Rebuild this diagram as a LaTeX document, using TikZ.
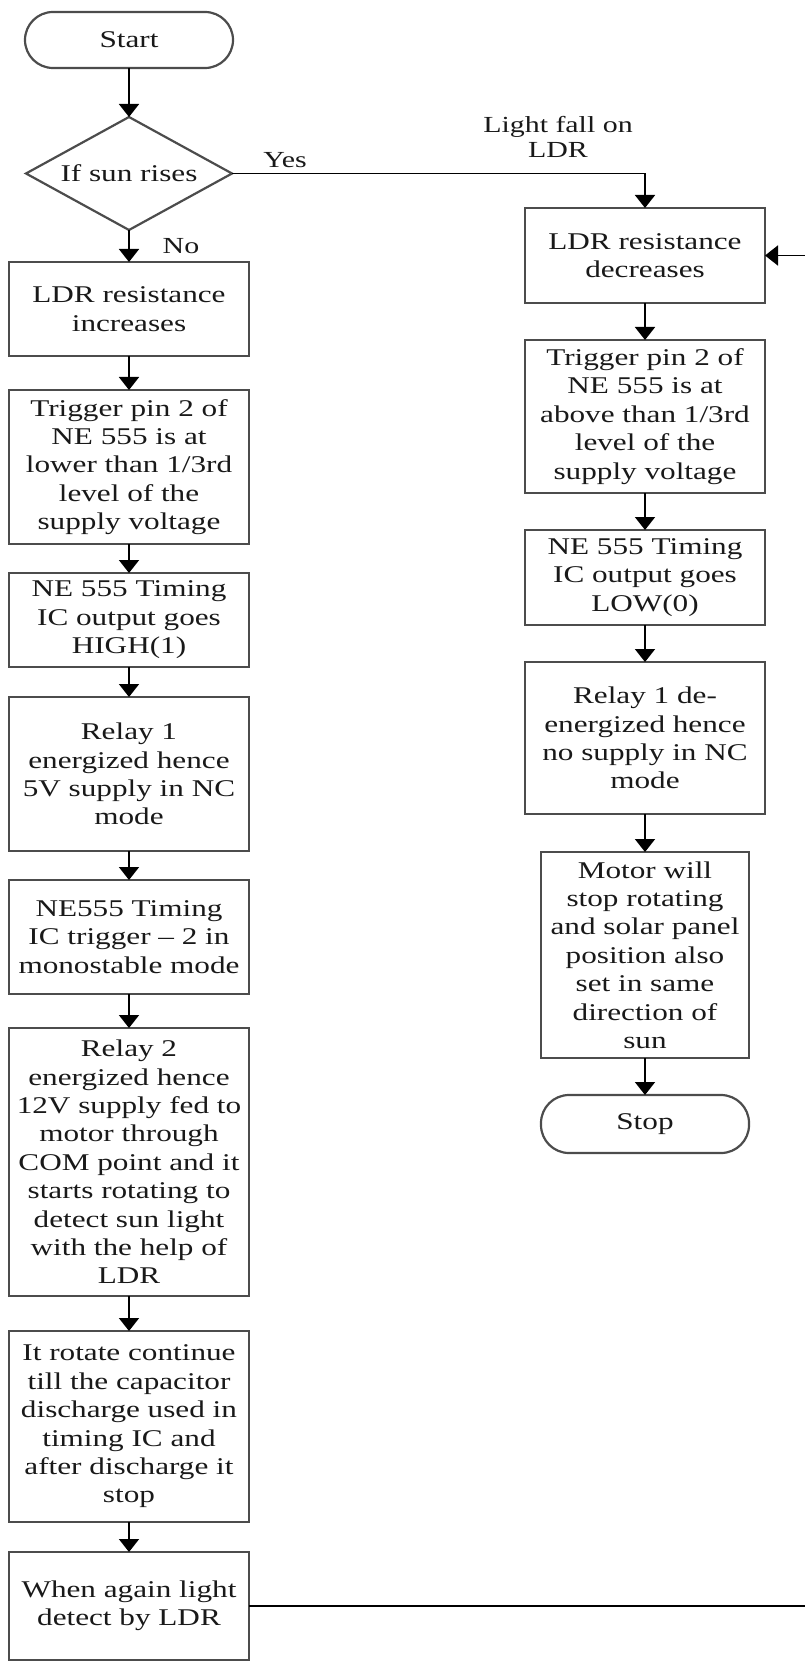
\documentclass[tikz,border=0pt]{standalone}
\usepackage{fontspec}
\setmainfont{Liberation Serif}[FakeStretch=1.3]
\usetikzlibrary{arrows.meta,positioning,shapes.geometric}
\tikzset{box/.style={draw=black!70,line width=1.1pt,align=center,minimum width=120pt,inner sep=2pt,outer sep=0pt,fill=white},term/.style={box,rounded corners=14pt,minimum width=104pt,minimum height=28pt},cond/.style={draw=black!70,line width=1.1pt,diamond,aspect=1.82,minimum width=103pt,minimum height=56.5pt,inner sep=0pt,outer sep=0pt,align=center},arrow/.style={-{Triangle[width=10pt,length=6.5pt]},line width=0.9pt},lbl/.style={align=center,font=\fontsize{11.5}{12.5}\selectfont}}

\begin{document}
\begin{tikzpicture}[x=0.5pt,y=-0.5pt,font=\fontsize{12}{14.2}\selectfont,text=black!90]
\useasboundingbox (0,0) rectangle (804,1663);
\node[term] (start) at (129,40) {Start};
\node[cond,below=24.5pt of start] (sun) {If sun rises};
\node[box,minimum height=47pt,below=16pt of sun] (incr) {LDR resistance\\increases};
\node[box,minimum height=77pt,below=17pt of incr] (trigl) {Trigger pin 2 of\\NE 555 is at\\lower than 1/3rd\\level of the\\supply voltage};
\node[box,minimum height=47pt,below=14.5pt of trigl] (high) {NE 555 Timing\\IC output goes\\HIGH(1)};
\node[box,minimum height=77pt,below=15pt of high] (relayon) {Relay 1\\energized hence\\5V supply in NC\\mode};
\node[box,minimum height=57pt,below=14.5pt of relayon] (mono) {NE555 Timing\\IC trigger -- 2 in\\monostable mode};
\node[box,minimum height=134pt,below=17pt of mono] (relaytwo) {Relay 2\\energized hence\\12V supply fed to\\motor through\\COM point and it\\starts rotating to\\detect sun light\\with the help of\\LDR};
\node[box,minimum height=95.5pt,below=17.5pt of relaytwo] (rotate) {It rotate continue\\till the capacitor\\discharge used in\\timing IC and\\after discharge it\\stop};
\node[box,minimum height=54pt,below=15pt of rotate] (again) {When again light\\detect by LDR};
\node[box,minimum height=47.5pt] (decr) at (645,255.5) {LDR resistance\\decreases};
\node[box,minimum height=76.5pt,below=18.5pt of decr] (trigr) {Trigger pin 2 of\\NE 555 is at\\above than 1/3rd\\level of the\\supply voltage};
\node[box,minimum height=47.5pt,below=18.5pt of trigr] (low) {NE 555 Timing\\IC output goes\\LOW(0)};
\node[box,minimum height=76pt,below=18.5pt of low] (relayoff) {Relay 1 de-\\energized hence\\no supply in NC\\mode};
\node[box,minimum width=104pt,minimum height=103pt,below=19pt of relayoff] (motor) {Motor will\\stop rotating\\and solar panel\\position also\\set in same\\direction of\\sun};
\node[term,minimum height=29pt,below=18.5pt of motor] (stop) {Stop};
\node[lbl] (yes) at (285,160) {Yes};
\node[lbl] (no) at (181,246) {No};
\node[lbl] (light) at (558,137) {Light fall on\\LDR};
\coordinate (edge) at (812,0);
\draw[arrow] (start)--(sun); \draw[arrow] (sun)--(incr); \draw[arrow] (incr)--(trigl); \draw[arrow] (trigl)--(high); \draw[arrow] (high)--(relayon);
\draw[arrow] (relayon)--(mono); \draw[arrow] (mono)--(relaytwo); \draw[arrow] (relaytwo)--(rotate); \draw[arrow] (rotate)--(again);
\draw[arrow] (sun) -| (decr);
\draw[arrow] (decr)--(trigr); \draw[arrow] (trigr)--(low); \draw[arrow] (low)--(relayoff); \draw[arrow] (relayoff)--(motor); \draw[arrow] (motor)--(stop);
\draw[arrow] (again.east) -| (edge |- decr.east) -- (decr.east);
\end{tikzpicture}
\end{document}
